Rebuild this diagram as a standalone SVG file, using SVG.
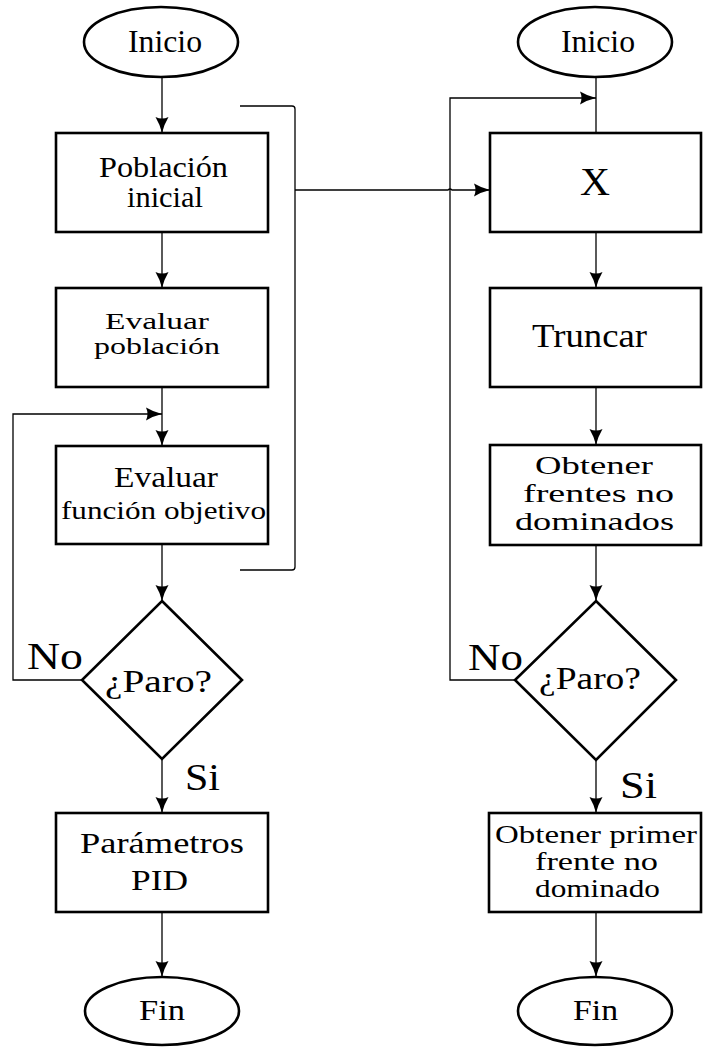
<svg xmlns="http://www.w3.org/2000/svg" width="703" height="1047" viewBox="0 0 703 1047" font-family="'Liberation Serif', 'Times New Roman', serif">
<style>
.node{fill:#fff;stroke:#000;stroke-width:2.6}
.conn{fill:none;stroke:#000;stroke-width:1.3}
text{font-family:'Liberation Serif','Times New Roman',serif;fill:#000;text-anchor:middle}
</style>
<defs>
<marker id="arr" markerUnits="userSpaceOnUse" markerWidth="18" markerHeight="14" refX="16" refY="7" orient="auto" viewBox="0 0 18 14">
<path d="M16,7 Q8,5.2 0,0.5 Q3,7 0,13.5 Q8,8.8 16,7Z" fill="#000"/>
</marker>
</defs>
<rect width="703" height="1047" fill="#fff"/>
<g id="connectors">
<path class="conn" d="M162,77 V133" marker-end="url(#arr)"/>
<path class="conn" d="M162,232 V288" marker-end="url(#arr)"/>
<path class="conn" d="M162,387 V446" marker-end="url(#arr)"/>
<path class="conn" d="M82,680 H13 V414 H162" marker-end="url(#arr)"/>
<path class="conn" d="M162,544 V601" marker-end="url(#arr)"/>
<path class="conn" d="M162,759 V813" marker-end="url(#arr)"/>
<path class="conn" d="M162,912 V977" marker-end="url(#arr)"/>
<path class="conn" d="M240,106 H292 Q295,106 295,109 V567 Q295,570 292,570 H240"/>
<path class="conn" d="M295,190 H448 Q450,188 452,190 H490" marker-end="url(#arr)"/>
<path class="conn" d="M596,77 V133"/>
<path class="conn" d="M515,680 H450 V98 H596" marker-end="url(#arr)"/>
<path class="conn" d="M596,232 V288" marker-end="url(#arr)"/>
<path class="conn" d="M596,387 V445" marker-end="url(#arr)"/>
<path class="conn" d="M596,545 V601" marker-end="url(#arr)"/>
<path class="conn" d="M596,760 V813" marker-end="url(#arr)"/>
<path class="conn" d="M596,912 V977" marker-end="url(#arr)"/>
</g>
<g id="inicio-left">
<ellipse class="node" cx="161" cy="42" rx="77" ry="35"/>
<text x="165" y="52" font-size="31" textLength="74" lengthAdjust="spacingAndGlyphs">Inicio</text>
</g>
<g id="poblacion-inicial">
<rect class="node" x="56" y="133" width="212" height="99"/>
<text x="163.5" y="177" font-size="29" textLength="129" lengthAdjust="spacingAndGlyphs">Población</text>
<text x="165" y="207" font-size="29" textLength="76" lengthAdjust="spacingAndGlyphs">inicial</text>
</g>
<g id="evaluar-poblacion">
<rect class="node" x="56" y="288" width="212" height="99"/>
<text x="157" y="329" font-size="24" textLength="104" lengthAdjust="spacingAndGlyphs">Evaluar</text>
<text x="157" y="354" font-size="24" textLength="126" lengthAdjust="spacingAndGlyphs">población</text>
</g>
<g id="evaluar-funcion">
<rect class="node" x="56" y="446" width="212" height="98"/>
<text x="166" y="487" font-size="30" textLength="104" lengthAdjust="spacingAndGlyphs">Evaluar</text>
<text x="163.5" y="519" font-size="26" textLength="205" lengthAdjust="spacingAndGlyphs">función objetivo</text>
</g>
<g id="paro-left">
<polygon class="node" points="162,601 242,680 162,759 82,680"/>
<text x="158.5" y="692" font-size="31" textLength="107" lengthAdjust="spacingAndGlyphs">¿Paro?</text>
<text x="55" y="669" font-size="38" textLength="56" lengthAdjust="spacingAndGlyphs">No</text>
<text x="202.5" y="790" font-size="38" textLength="35" lengthAdjust="spacingAndGlyphs">Si</text>
</g>
<g id="parametros-pid">
<rect class="node" x="56" y="813" width="212" height="99"/>
<text x="162" y="853" font-size="30" textLength="164" lengthAdjust="spacingAndGlyphs">Parámetros</text>
<text x="159.5" y="890" font-size="30" textLength="57" lengthAdjust="spacingAndGlyphs">PID</text>
</g>
<g id="fin-left">
<ellipse class="node" cx="162" cy="1011" rx="77" ry="34"/>
<text x="162" y="1020" font-size="30" textLength="46" lengthAdjust="spacingAndGlyphs">Fin</text>
</g>
<g id="inicio-right">
<ellipse class="node" cx="595" cy="42" rx="77" ry="35"/>
<text x="598" y="52" font-size="31" textLength="74" lengthAdjust="spacingAndGlyphs">Inicio</text>
</g>
<g id="x-box">
<rect class="node" x="490" y="133" width="211" height="99"/>
<text x="595" y="195" font-size="40" textLength="30" lengthAdjust="spacingAndGlyphs">X</text>
</g>
<g id="truncar">
<rect class="node" x="490" y="288" width="211" height="99"/>
<text x="589.5" y="347" font-size="33" textLength="115" lengthAdjust="spacingAndGlyphs">Truncar</text>
</g>
<g id="obtener-frentes">
<rect class="node" x="490" y="445" width="211" height="100"/>
<text x="594" y="474" font-size="26" textLength="118" lengthAdjust="spacingAndGlyphs">Obtener</text>
<text x="598.5" y="502" font-size="26" textLength="151" lengthAdjust="spacingAndGlyphs">frentes no</text>
<text x="594.5" y="530" font-size="26" textLength="159" lengthAdjust="spacingAndGlyphs">dominados</text>
</g>
<g id="paro-right">
<polygon class="node" points="596,601 676,680 596,760 515,680"/>
<text x="590" y="689" font-size="31" textLength="102" lengthAdjust="spacingAndGlyphs">¿Paro?</text>
<text x="495.5" y="670" font-size="38" textLength="55" lengthAdjust="spacingAndGlyphs">No</text>
<text x="638.5" y="798" font-size="38" textLength="37" lengthAdjust="spacingAndGlyphs">Si</text>
</g>
<g id="obtener-primer">
<rect class="node" x="489" y="813" width="212" height="99"/>
<text x="596" y="843" font-size="25" textLength="202" lengthAdjust="spacingAndGlyphs">Obtener primer</text>
<text x="596.5" y="870" font-size="25" textLength="123" lengthAdjust="spacingAndGlyphs">frente no</text>
<text x="597.5" y="897" font-size="25" textLength="125" lengthAdjust="spacingAndGlyphs">dominado</text>
</g>
<g id="fin-right">
<ellipse class="node" cx="595" cy="1011" rx="77" ry="34"/>
<text x="595.5" y="1020" font-size="30" textLength="45" lengthAdjust="spacingAndGlyphs">Fin</text>
</g>
</svg>
